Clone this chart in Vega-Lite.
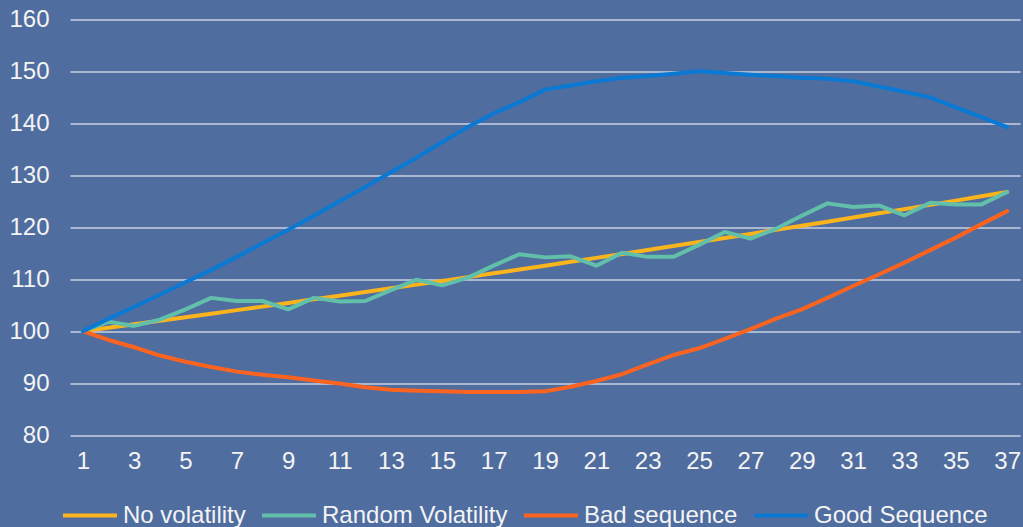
{
  "$schema": "https://vega.github.io/schema/vega-lite/v6.json",
  "width": 950,
  "height": 415.5,
  "autosize": {"type": "none"},
  "padding": {"left": 70, "top": 19.5, "right": 3, "bottom": 92},
  "background": "#4F6D9F",
  "config": {
    "view": {"stroke": null},
    "font": "Liberation Sans",
    "axis": {
      "labelFont": "Liberation Sans",
      "labelFontSize": 24,
      "labelColor": "#F4F4F4",
      "title": null,
      "ticks": false
    },
    "legend": {
      "labelFont": "Liberation Sans",
      "labelFontSize": 24,
      "labelColor": "#F4F4F4",
      "labelLimit": 0
    }
  },
  "data": {
    "values": [
      {"period": 1, "No volatility": 100, "Random Volatility": 100, "Bad sequence": 100, "Good Sequence": 100},
      {"period": 2, "No volatility": 100.66, "Random Volatility": 101.8, "Bad sequence": 98.3, "Good Sequence": 102.35},
      {"period": 3, "No volatility": 101.33, "Random Volatility": 101.0, "Bad sequence": 96.9, "Good Sequence": 104.7},
      {"period": 4, "No volatility": 102.0, "Random Volatility": 102.2, "Bad sequence": 95.3, "Good Sequence": 107.0},
      {"period": 5, "No volatility": 102.67, "Random Volatility": 104.2, "Bad sequence": 94.1, "Good Sequence": 109.4},
      {"period": 6, "No volatility": 103.35, "Random Volatility": 106.4, "Bad sequence": 93.1, "Good Sequence": 111.8},
      {"period": 7, "No volatility": 104.04, "Random Volatility": 105.8, "Bad sequence": 92.2, "Good Sequence": 114.3},
      {"period": 8, "No volatility": 104.72, "Random Volatility": 105.8, "Bad sequence": 91.6, "Good Sequence": 116.9},
      {"period": 9, "No volatility": 105.42, "Random Volatility": 104.2, "Bad sequence": 91.1, "Good Sequence": 119.5},
      {"period": 10, "No volatility": 106.12, "Random Volatility": 106.4, "Bad sequence": 90.5, "Good Sequence": 122.2},
      {"period": 11, "No volatility": 106.82, "Random Volatility": 105.7, "Bad sequence": 89.9, "Good Sequence": 125.0},
      {"period": 12, "No volatility": 107.52, "Random Volatility": 105.8, "Bad sequence": 89.2, "Good Sequence": 127.75},
      {"period": 13, "No volatility": 108.24, "Random Volatility": 107.9, "Bad sequence": 88.7, "Good Sequence": 130.6},
      {"period": 14, "No volatility": 108.95, "Random Volatility": 109.9, "Bad sequence": 88.5, "Good Sequence": 133.4},
      {"period": 15, "No volatility": 109.67, "Random Volatility": 108.8, "Bad sequence": 88.4, "Good Sequence": 136.4},
      {"period": 16, "No volatility": 110.4, "Random Volatility": 110.3, "Bad sequence": 88.3, "Good Sequence": 139.3},
      {"period": 17, "No volatility": 111.13, "Random Volatility": 112.6, "Bad sequence": 88.3, "Good Sequence": 141.9},
      {"period": 18, "No volatility": 111.86, "Random Volatility": 114.8, "Bad sequence": 88.3, "Good Sequence": 144.1},
      {"period": 19, "No volatility": 112.6, "Random Volatility": 114.2, "Bad sequence": 88.4, "Good Sequence": 146.5},
      {"period": 20, "No volatility": 113.35, "Random Volatility": 114.4, "Bad sequence": 89.3, "Good Sequence": 147.3},
      {"period": 21, "No volatility": 114.1, "Random Volatility": 112.6, "Bad sequence": 90.4, "Good Sequence": 148.1},
      {"period": 22, "No volatility": 114.85, "Random Volatility": 115.1, "Bad sequence": 91.7, "Good Sequence": 148.8},
      {"period": 23, "No volatility": 115.61, "Random Volatility": 114.3, "Bad sequence": 93.6, "Good Sequence": 149.1},
      {"period": 24, "No volatility": 116.38, "Random Volatility": 114.3, "Bad sequence": 95.4, "Good Sequence": 149.55},
      {"period": 25, "No volatility": 117.15, "Random Volatility": 116.6, "Bad sequence": 96.7, "Good Sequence": 150.05},
      {"period": 26, "No volatility": 117.92, "Random Volatility": 119.1, "Bad sequence": 98.5, "Good Sequence": 149.7},
      {"period": 27, "No volatility": 118.7, "Random Volatility": 117.8, "Bad sequence": 100.4, "Good Sequence": 149.35},
      {"period": 28, "No volatility": 119.49, "Random Volatility": 119.7, "Bad sequence": 102.4, "Good Sequence": 149.1},
      {"period": 29, "No volatility": 120.28, "Random Volatility": 122.2, "Bad sequence": 104.2, "Good Sequence": 148.8},
      {"period": 30, "No volatility": 121.07, "Random Volatility": 124.6, "Bad sequence": 106.4, "Good Sequence": 148.6},
      {"period": 31, "No volatility": 121.87, "Random Volatility": 123.9, "Bad sequence": 108.7, "Good Sequence": 148.1},
      {"period": 32, "No volatility": 122.68, "Random Volatility": 124.2, "Bad sequence": 110.9, "Good Sequence": 147.1},
      {"period": 33, "No volatility": 123.49, "Random Volatility": 122.3, "Bad sequence": 113.2, "Good Sequence": 146.1},
      {"period": 34, "No volatility": 124.31, "Random Volatility": 124.7, "Bad sequence": 115.6, "Good Sequence": 145.0},
      {"period": 35, "No volatility": 125.13, "Random Volatility": 124.4, "Bad sequence": 118.0, "Good Sequence": 143.1},
      {"period": 36, "No volatility": 125.96, "Random Volatility": 124.4, "Bad sequence": 120.6, "Good Sequence": 141.2},
      {"period": 37, "No volatility": 126.79, "Random Volatility": 126.8, "Bad sequence": 123.1, "Good Sequence": 139.3}
    ]
  },
  "transform": [
    {"fold": ["No volatility", "Random Volatility", "Bad sequence", "Good Sequence"], "as": ["series", "value"]}
  ],
  "mark": {"type": "line", "strokeWidth": 4, "strokeCap": "round", "strokeJoin": "round"},
  "encoding": {
    "x": {
      "field": "period",
      "type": "quantitative",
      "scale": {"domain": [0.5, 37.5], "nice": false, "zero": false},
      "axis": {
        "values": [1, 3, 5, 7, 9, 11, 13, 15, 17, 19, 21, 23, 25, 27, 29, 31, 33, 35, 37],
        "format": "d",
        "grid": false,
        "domain": false,
        "labelFlush": false,
        "labelPadding": 14
      }
    },
    "y": {
      "field": "value",
      "type": "quantitative",
      "scale": {"domain": [80, 160], "nice": false, "zero": false},
      "axis": {
        "values": [80, 90, 100, 110, 120, 130, 140, 150, 160],
        "grid": true,
        "gridColor": "#C9D1E0",
        "gridWidth": 1.5,
        "domain": false,
        "labelPadding": 21
      }
    },
    "color": {
      "field": "series",
      "type": "nominal",
      "sort": ["No volatility", "Random Volatility", "Bad sequence", "Good Sequence"],
      "scale": {
        "domain": ["No volatility", "Random Volatility", "Bad sequence", "Good Sequence"],
        "range": ["#FBB41C", "#62BFAA", "#FA6420", "#0979D3"]
      },
      "legend": {
        "title": null,
        "orient": "none",
        "direction": "horizontal",
        "legendX": -9,
        "legendY": 467,
        "symbolType": "stroke",
        "symbolSize": 2916,
        "symbolStrokeWidth": 4,
        "labelOffset": 4,
        "columnPadding": 8
      }
    }
  }
}
